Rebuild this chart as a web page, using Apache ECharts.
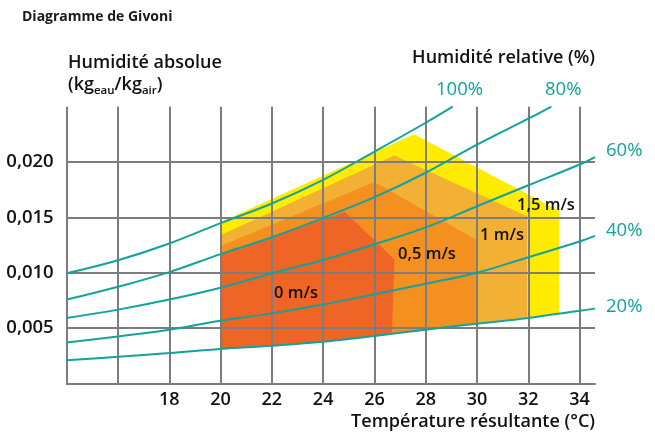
<!DOCTYPE html>
<html>
<head>
<meta charset="utf-8">
<script src="https://cdn.jsdelivr.net/npm/echarts@6/dist/echarts.min.js"></script>
<style>html,body{margin:0;padding:0;background:#fff;}#c{width:655px;height:434px;}</style>
</head>
<body>
<div id="c"></div>
<script>
// Temperature ticks and labels
const xTicks = [18, 20, 22, 24, 26, 28, 30, 32, 34];
const yTicks = [0.005, 0.010, 0.015, 0.020];

// Relative humidity curves [temperature °C, absolute humidity kg/kg]
const rh100 = [[14,0.00994],[16,0.01112],[18,0.01264],[20,0.01448],[22,0.01625],[24,0.01839],[26,0.02094],[28,0.02355],[29.05,0.0250]];
const rh80  = [[14,0.00757],[16,0.00873],[18,0.01005],[20,0.01168],[22,0.01320],[24,0.01495],[26,0.01682],[28,0.01903],[30,0.02157],[32,0.02392],[32.9,0.0250]];
const rh60  = [[14,0.00591],[16,0.00666],[18,0.00757],[20,0.00864],[22,0.00995],[24,0.01115],[26,0.01257],[28,0.01409],[30,0.01600],[32,0.01790],[34,0.01978],[34.6,0.02045]];
const rh40  = [[14,0.00369],[16,0.00424],[18,0.00485],[20,0.00565],[22,0.00632],[24,0.00712],[26,0.00805],[28,0.00900],[30,0.01000],[32,0.01140],[34,0.01282],[34.6,0.01333]];
const rh20  = [[14,0.00209],[16,0.00239],[18,0.00273],[20,0.00310],[22,0.00339],[24,0.00375],[26,0.00428],[28,0.00485],[30,0.00539],[32,0.00591],[34,0.00655],[34.6,0.00675]];
const rhNames = ['100%', '80%', '60%', '40%', '20%'];

// Comfort zones (polygons) by air speed
const zone15 = [[20,0.01455],[27.55,0.02250],[33.2,0.01560],[33.2,0.00636],[32,0.00591],[30,0.00539],[28,0.00485],[26,0.00428],[24,0.00375],[22,0.00339],[20,0.00310]];
const zone10 = [[20,0.01339],[26.77,0.02060],[31.95,0.01510],[31.95,0.00600],[30,0.00539],[28,0.00485],[26,0.00428],[24,0.00375],[22,0.00339],[20,0.00310]];
const zone05 = [[20,0.01242],[26.0,0.01820],[29.95,0.01300],[29.95,0.00539],[28,0.00485],[26,0.00428],[24,0.00375],[22,0.00339],[20,0.00310]];
const zone00 = [[20,0.01166],[24.84,0.01550],[26.78,0.01120],[26.68,0.00452],[26,0.00428],[24,0.00375],[22,0.00339],[20,0.00310]];
const zoneNames = ['1,5 m/s', '1 m/s', '0,5 m/s', '0 m/s'];

const zones = [zone15, zone10, zone05, zone00];
const zoneColors = ['#FFEC00', '#F2B134', '#F39020', '#EF6526'];
const teal = '#11A39C';
const gray = '#7d7d7d';
const FF = '"Open Sans", "Noto Sans", sans-serif';
const W = 600;

const chart = echarts.init(document.getElementById('c'), null, {renderer: 'canvas'});

function txt(text, x, y, opts) {
  opts = opts || {};
  return {
    type: 'text', x: x, y: y, z: 100,
    style: {
      text: text,
      fill: opts.fill || '#111',
      fontSize: opts.size || 18,
      fontFamily: FF,
      fontWeight: opts.weight || W,
      align: opts.align || 'left',
      textAlign: opts.align || 'left',
      verticalAlign: 'middle',
      textVerticalAlign: 'middle'
    }
  };
}

const option = {
  animation: false,
  backgroundColor: '#fff',
  grid: {left: 66.7, right: 60, top: 106.7, bottom: 50.7, containLabel: false},
  xAxis: {
    type: 'value', min: 14, max: 34.6, interval: 2, z: 2,
    axisLine: {show: true, lineStyle: {color: gray, width: 2}},
    axisTick: {show: false},
    axisLabel: {
      showMaxLabel: false, margin: 8,
      color: '#111', fontSize: 18, fontFamily: FF, fontWeight: W,
      formatter: v => xTicks.indexOf(Math.round(v * 100) / 100) >= 0 ? String(v) : ''
    },
    splitLine: {show: true, showMaxLine: false, lineStyle: {color: gray, width: 2}}
  },
  yAxis: {
    type: 'value', min: 0, max: 0.025, interval: 0.005, z: 2,
    axisLine: {show: false},
    axisTick: {show: false},
    axisLabel: {
      showMaxLabel: false, margin: 13,
      color: '#111', fontSize: 18.5, fontFamily: FF, fontWeight: W,
      formatter: v => {
        const r = Math.round(v * 1000) / 1000;
        return yTicks.indexOf(r) >= 0 ? r.toFixed(3).replace('.', ',') : '';
      }
    },
    splitLine: {show: true, showMaxLine: false, lineStyle: {color: gray, width: 2}}
  },
  series: [
    {
      type: 'custom', z: 1, clip: false,
      data: zones.map(z => z[0]),
      renderItem: function (params, api) {
        const pts = zones[params.dataIndex].map(p => api.coord(p));
        return {type: 'polygon', shape: {points: pts}, style: {fill: zoneColors[params.dataIndex]}};
      }
    }
  ].concat([rh100, rh80, rh60, rh40, rh20].map((d, i) => ({
    type: 'line', name: rhNames[i], data: d, z: 3,
    smooth: 0.4, symbol: 'none', clip: false,
    lineStyle: {color: teal, width: 2}
  }))),
  graphic: [
    txt('Diagramme de Givoni', 22, 17, {size: 14, weight: 700, fill: '#1a1a1a'}),
    txt('Humidité absolue', 68, 63),
    {
      type: 'text', x: 68, y: 85, z: 100,
      style: {
        text: '{m|(kg}{s|eau}{m|/kg}{s|air}{m|)}',
        verticalAlign: 'middle', textVerticalAlign: 'middle',
        rich: {
          m: {fontSize: 18, fontFamily: FF, fontWeight: W, fill: '#111', color: '#111', lineHeight: 24, verticalAlign: 'middle'},
          s: {fontSize: 11.5, fontFamily: FF, fontWeight: W, fill: '#111', color: '#111', lineHeight: 24, verticalAlign: 'bottom'}
        }
      }
    },
    txt('Humidité relative (%)', 595, 58, {align: 'right'}),
    txt('100%', 436, 90, {fill: teal, weight: 500, size: 18.5}),
    txt('80%', 545, 90, {fill: teal, weight: 500, size: 18.5}),
    txt('60%', 606, 151, {fill: teal, weight: 500, size: 18.5}),
    txt('40%', 606, 231, {fill: teal, weight: 500, size: 18.5}),
    txt('20%', 606, 307, {fill: teal, weight: 500, size: 18.5}),
    txt(zoneNames[3], 274, 293, {size: 16.5}),
    txt(zoneNames[2], 398, 254, {size: 16.5}),
    txt(zoneNames[1], 480, 235, {size: 16.5}),
    txt(zoneNames[0], 517, 205, {size: 16.5}),
    txt('Température résultante (°C)', 595, 422, {align: 'right'})
  ]
};
chart.setOption(option);
</script>
</body>
</html>
